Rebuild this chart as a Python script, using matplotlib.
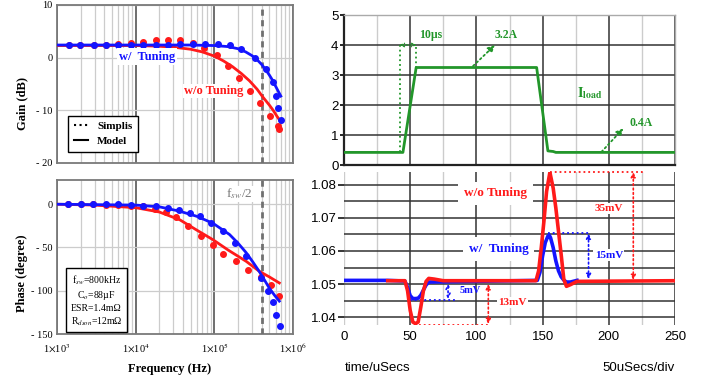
import matplotlib
matplotlib.use("Agg")
import matplotlib.pyplot as plt
import numpy as np
from matplotlib.lines import Line2D
from matplotlib.ticker import LogLocator, MultipleLocator, FixedLocator, NullFormatter

plt.rcParams['mathtext.fontset'] = 'stix'

# ---------------- data: Bode plots (left) ----------------
# Simplis points (dots)
gain_blue_f = [1.41e3, 1.98e3, 2.92e3, 4.22e3, 6.05e3, 8.67e3, 1.25e4, 1.8e4, 2.6e4, 3.65e4,
               5.3e4, 7.7e4, 1.12e5, 1.57e5, 2.21e5, 3.26e5, 4.59e5, 5.57e5, 6.14e5, 6.45e5, 6.97e5]
gain_blue_db = [2.5, 2.5, 2.5, 2.5, 2.5, 2.5, 2.5, 2.5, 2.5, 2.6,
                2.6, 2.6, 2.6, 2.4, 1.6, -0.1, -2.2, -4.7, -7.2, -9.6, -11.8]
gain_red_f = [1.41e3, 1.98e3, 2.92e3, 4.22e3, 6.05e3, 8.67e3, 1.25e4, 1.8e4, 2.6e4, 3.65e4,
              5.3e4, 7.4e4, 1.07e5, 1.5e5, 2.07e5, 2.82e5, 3.78e5, 5.05e5, 6.45e5, 6.64e5]
gain_red_db = [2.5, 2.5, 2.5, 2.5, 2.6, 2.8, 3.0, 3.3, 3.4, 3.3,
               2.8, 1.9, 0.6, -1.6, -3.9, -6.3, -8.7, -11.0, -12.9, -13.5]
# Model curves
gmod_blue_f = [1e3, 1e4, 5e4, 1e5, 1.5e5, 2e5, 2.5e5, 3e5, 3.5e5, 4e5, 4.5e5, 5e5, 5.5e5, 6e5, 6.5e5, 7e5]
gmod_blue_db = [2.4, 2.4, 2.4, 2.3, 2.1, 1.7, 1.1, 0.4, -0.4, -1.3, -2.3, -3.3, -4.3, -5.4, -6.4, -7.3]
gmod_red_f = [1e3, 1e4, 1.8e4, 3e4, 5e4, 7e4, 1e5, 1.3e5, 1.7e5, 2.2e5, 2.8e5, 3.5e5, 4.1e5, 5e5, 5.6e5, 6.3e5, 7.1e5]
gmod_red_db = [2.3, 2.3, 2.2, 2.0, 1.6, 1.1, 0.3, -0.6, -1.7, -3.0, -4.4, -6.0, -7.4, -9.0, -10.0, -11.2, -12.3]

phase_blue_f = [1.4e3, 2e3, 2.9e3, 4.2e3, 6e3, 8.7e3, 1.25e4, 1.8e4, 2.6e4, 3.6e4, 4.9e4,
                6.5e4, 9.2e4, 1.29e5, 1.81e5, 2.54e5, 3.94e5, 4.8e5, 5.5e5, 6.1e5, 6.8e5]
phase_blue_deg = [0, 0, 0, 0, 0, -1, -1.5, -2.5, -4, -7, -10,
                  -14, -22, -31, -45, -60, -85, -100, -113, -128, -141]
phase_red_f = [1.4e3, 2e3, 2.9e3, 4.2e3, 6e3, 8.7e3, 1.25e4, 1.75e4, 2.4e4, 3.3e4, 4.6e4,
               6.8e4, 9.6e4, 1.3e5, 1.9e5, 2.66e5, 3.9e5, 5.25e5, 6.6e5]
phase_red_deg = [0, 0, 0, -0.5, -1, -1.5, -2.5, -5, -9, -15, -25,
                 -37, -47, -58, -66, -76, -84, -93, -106]
pmod_blue_f = [1e3, 1e4, 2e4, 3.6e4, 6e4, 9.6e4, 1.56e5, 2e5, 2.54e5, 3.1e5, 3.74e5, 4.3e5, 5e5, 5.8e5, 6.7e5]
pmod_blue_deg = [0, -1, -3, -8, -14, -22, -35, -45, -56, -67, -78, -87, -97, -105, -112]
pmod_red_f = [1e3, 3e3, 1e4, 2e4, 3.64e4, 6e4, 9.6e4, 1.5e5, 2.54e5, 3.74e5, 5e5, 6.7e5]
pmod_red_deg = [0, -1, -4, -9, -18, -30, -41, -53, -66, -77.6, -84, -91]

f_half = 4e5  # fsw/2

# ---------------- data: transient (right) ----------------
iload_t = [0, 44.5, 54.5, 145.5, 154, 158, 160, 250]
iload_a = [0.42, 0.42, 3.25, 3.25, 0.47, 0.45, 0.42, 0.42]

vb_t = [0, 33, 46, 48, 50, 52, 54, 56, 58, 60, 62, 64, 146, 148, 150, 152, 154, 155,
        156, 158, 160, 162, 164, 166, 168, 171, 176]
vb_v = [1.0511, 1.0511, 1.0509, 1.049, 1.0465, 1.0456, 1.0456, 1.0457, 1.0466, 1.0482, 1.0497,
        1.0506, 1.0511, 1.0535, 1.0585, 1.0625, 1.0645, 1.0648, 1.0640, 1.0610, 1.0570, 1.0540,
        1.0522, 1.0512, 1.0506, 1.0506, 1.0511]
vr_t = [33, 46, 48, 50, 52, 54, 56, 58, 60, 62, 64, 68, 75, 145, 147, 149, 151, 153, 155.5,
        158, 160, 162, 164, 166, 168, 171, 176, 250]
vr_v = [1.051, 1.051, 1.048, 1.042, 1.0385, 1.038, 1.0385, 1.043, 1.048, 1.0508, 1.0517, 1.0515,
        1.051, 1.051, 1.054, 1.061, 1.069, 1.078, 1.0838, 1.079, 1.073, 1.066, 1.059, 1.0515,
        1.0493, 1.0498, 1.0508, 1.051]

BLUE = '#1414ff'
RED = '#ff1a1a'
GREEN = '#22962a'
SERIF = 'Liberation Serif'
SANS = 'Liberation Sans'

fig = plt.figure(figsize=(7.06, 3.83), dpi=100)
W, H = 706, 383


def add_ax(x0, y0, x1, y1):
    return fig.add_axes([x0 / W, 1 - y1 / H, (x1 - x0) / W, (y1 - y0) / H])


def style_bode(ax):
    ax.set_xscale('log')
    ax.set_xlim(1e3, 1e6)
    ax.xaxis.set_major_locator(LogLocator(base=10, numticks=10))
    ax.xaxis.set_minor_locator(LogLocator(base=10, subs=np.arange(2, 10), numticks=20))
    ax.xaxis.set_minor_formatter(NullFormatter())
    ax.grid(True, axis='x', which='minor', color='#cccccc', lw=0.9)
    ax.grid(True, axis='x', which='major', color='#555555', lw=1.2)
    ax.grid(True, axis='y', which='major', color='#cccccc', lw=0.9)
    ax.set_axisbelow(True)
    for s in ax.spines.values():
        s.set_color('#7a7a7a')
        s.set_linewidth(1.3)
    ax.tick_params(axis='both', which='both', length=0, labelsize=7.5, pad=3)
    for lab in ax.get_xticklabels() + ax.get_yticklabels():
        lab.set_family(SERIF)
    ax.axvline(f_half, color='#707070', lw=2, ls=(0, (2.2, 1.6)), zorder=4)


# ---- Gain ----
axg = add_ax(57, 5, 293, 163)
axg.plot(gmod_red_f, gmod_red_db, color=RED, lw=2.0, zorder=5)
axg.plot(gain_red_f, gain_red_db, 'o', color=RED, ms=4, zorder=5)
axg.plot(gmod_blue_f, gmod_blue_db, color=BLUE, lw=2.0, zorder=6)
axg.plot(gain_blue_f, gain_blue_db, 'o', color=BLUE, ms=4, zorder=6)
axg.set_ylim(-20, 10)
axg.set_yticks([-20, -10, 0, 10])
axg.set_yticklabels(['- 20', '- 10', '0', '10'])
style_bode(axg)
axg.set_xticklabels([])
axg.text(1.4e4, 0.2, 'w/  Tuning', color=BLUE, fontsize=9, fontweight='bold', family=SERIF,
         ha='center', va='center', zorder=7,
         bbox=dict(facecolor='white', edgecolor='none', pad=1.5))
axg.text(9.8e4, -6.3, 'w/o Tuning', color=RED, fontsize=9, fontweight='bold', family=SERIF,
         ha='center', va='center', zorder=3,
         bbox=dict(facecolor='white', edgecolor='none', pad=0.5))
handles = [Line2D([], [], color='black', ls=':', lw=1.5),
           Line2D([], [], color='black', ls='-', lw=1.5)]
leg = axg.legend(handles, ['Simplis', 'Model'], loc='lower left', bbox_to_anchor=(0.047, 0.07),
                 borderaxespad=0, fancybox=False, edgecolor='black', framealpha=1,
                 prop={'family': SERIF, 'weight': 'bold', 'size': 8},
                 handlelength=1.3, handletextpad=0.8, labelspacing=0.5, borderpad=0.5)
leg.get_frame().set_linewidth(1.0)
leg.set_zorder(10)
fig.text(22 / W, 1 - 103 / H, 'Gain (dB)', rotation=90, ha='center', va='center',
         family=SERIF, fontweight='bold', fontsize=9)

# ---- Phase ----
axp = add_ax(57, 180, 293, 334)
axp.plot(pmod_red_f, pmod_red_deg, color=RED, lw=2.0, zorder=5)
axp.plot(phase_red_f, phase_red_deg, 'o', color=RED, ms=4, zorder=5)
axp.plot(pmod_blue_f, pmod_blue_deg, color=BLUE, lw=2.0, zorder=6)
axp.plot(phase_blue_f, phase_blue_deg, 'o', color=BLUE, ms=4, zorder=6)
axp.set_ylim(-150, 28)
axp.set_yticks([-150, -100, -50, 0])
axp.set_yticklabels(['- 150', '- 100', '- 50', '0'])
style_bode(axp)
axp.set_xticks([1e3, 1e4, 1e5, 1e6])
axp.set_xticklabels([r'1$\times$10$^{3}$', r'1$\times$10$^{4}$', r'1$\times$10$^{5}$',
                     r'1$\times$10$^{6}$'], family=SERIF, fontsize=7.5)
axp.tick_params(axis='x', pad=6)
axp.text(2.1e5, 12, r'f$_{sw}$/2', color='#777777', fontsize=9.5, family=SERIF,
         ha='center', va='center', zorder=3,
         bbox=dict(facecolor='white', edgecolor='none', pad=0.5))
axp.text(0.167, 0.218, 'f$_{sw}$=800kHz\nC$_{o}$=88µF\nESR=1.4mΩ\nR$_{dson}$=12mΩ',
         transform=axp.transAxes, ha='center', va='center', multialignment='center',
         family=SERIF, fontsize=7, linespacing=1.25, zorder=10,
         bbox=dict(facecolor='white', edgecolor='black', lw=1.0, pad=3.5))
fig.text(22 / W, 1 - 273 / H, 'Phase (degree)', rotation=90, ha='center', va='center',
         family=SERIF, fontweight='bold', fontsize=9)
fig.text(170 / W, 1 - 369 / H, 'Frequency (Hz)', ha='center', va='center',
         family=SERIF, fontweight='bold', fontsize=9)

# ---- Load current ----
axi = add_ax(344, 15, 675, 165)
axi.set_xlim(0, 250)
axi.set_ylim(0, 5)
axi.xaxis.set_major_locator(MultipleLocator(50))
axi.xaxis.set_minor_locator(MultipleLocator(25))
axi.yaxis.set_major_locator(MultipleLocator(1))
axi.grid(True, which='major', color='#333333', lw=1.1)
axi.grid(True, axis='x', which='minor', color='#cccccc', lw=1.0)
axi.set_axisbelow(True)
axi.set_xticklabels([])
axi.tick_params(axis='x', which='both', length=0)
axi.tick_params(axis='y', length=3, width=1.2, labelsize=9.5, pad=1)
for lab in axi.get_yticklabels():
    lab.set_family(SANS)
for k in ('left', 'bottom'):
    axi.spines[k].set_color('#222222')
    axi.spines[k].set_linewidth(1.6)
for k in ('top', 'right'):
    axi.spines[k].set_color('#aaaaaa')
    axi.spines[k].set_linewidth(1.0)
axi.plot(iload_t, iload_a, color=GREEN, lw=2.0, zorder=5)
gkw = dict(color=GREEN, fontsize=8.5, fontweight='bold', family=SERIF, va='center', zorder=6)
axi.plot([42, 42], [0.42, 4.05], color=GREEN, ls=':', lw=1.3)
axi.plot([54.7, 54.7], [3.25, 4.05], color=GREEN, ls=':', lw=1.3)
axi.annotate('', xy=(42, 4.0), xytext=(54.7, 4.0),
             arrowprops=dict(arrowstyle='<->', color=GREEN, lw=1.0, ls=':',
                             mutation_scale=6, shrinkA=0, shrinkB=0))
axi.text(57, 4.35, '10µs', **gkw)
axi.annotate('', xy=(114, 4.0), xytext=(97.5, 3.3),
             arrowprops=dict(arrowstyle='-|>', color=GREEN, lw=1.3, ls=':',
                             mutation_scale=10, shrinkA=0, shrinkB=0))
axi.text(114, 4.35, '3.2A', **gkw)
axi.text(176, 2.4, r'$\mathbf{I}_{\mathbf{load}}$', color=GREEN, fontsize=10, va='center')
axi.annotate('', xy=(211, 1.22), xytext=(194.5, 0.44),
             arrowprops=dict(arrowstyle='-|>', color=GREEN, lw=1.3, ls=':',
                             mutation_scale=10, shrinkA=0, shrinkB=0))
axi.text(216, 1.4, '0.4A', **gkw)

# ---- Output voltage ----
axv = add_ax(344, 172, 675, 325)
axv.set_xlim(0, 250)
axv.set_ylim(1.0376, 1.0839)
for s in axv.spines.values():
    s.set_visible(False)
axv.xaxis.set_major_locator(MultipleLocator(50))
axv.yaxis.set_major_locator(FixedLocator([1.04, 1.05, 1.06, 1.07, 1.08]))
axv.yaxis.set_minor_locator(MultipleLocator(0.005))
axv.grid(True, axis='y', which='both', color='#333333', lw=1.1)
axv.set_axisbelow(True)
for t in np.arange(0, 251, 25):
    dark = (t % 50 == 0) and t > 0
    axv.axvline(t, color='#333333' if dark else '#cccccc', lw=1.1 if dark else 1.0, zorder=0)
axv.tick_params(axis='y', which='major', length=4, width=1.1, labelsize=9.5, pad=1)
axv.tick_params(axis='y', which='minor', length=0)
axv.tick_params(axis='x', length=0, labelsize=9.5, pad=4)
for lab in axv.get_xticklabels() + axv.get_yticklabels():
    lab.set_family(SANS)
axv.plot(vb_t, vb_v, color=BLUE, lw=2.6, zorder=5, solid_joinstyle='round')
axv.plot(vr_t, vr_v, color=RED, lw=2.6, zorder=6, solid_joinstyle='round')

akw = dict(shrinkA=0, shrinkB=0, mutation_scale=7, lw=1.2, ls=':')
axv.plot([155.5, 227], [1.0839, 1.0839], color=RED, ls=':', lw=1.3, clip_on=False)
axv.annotate('', xy=(218.5, 1.0839), xytext=(218.5, 1.0512),
             arrowprops=dict(arrowstyle='<|-|>', color=RED, **akw), annotation_clip=False)
axv.plot([154, 184.7], [1.0653, 1.0653], color=BLUE, ls=':', lw=1.3)
axv.annotate('', xy=(184.7, 1.0653), xytext=(184.7, 1.0515),
             arrowprops=dict(arrowstyle='<|-|>', color=BLUE, **akw))
axv.plot([50, 85], [1.0453, 1.0453], color=BLUE, ls=':', lw=1.3)
axv.annotate('', xy=(78.6, 1.0501), xytext=(78.6, 1.0455),
             arrowprops=dict(arrowstyle='<->', color=BLUE, **akw))
axv.plot([57, 109], [1.0377, 1.0377], color=RED, ls=':', lw=1.3)
axv.annotate('', xy=(109, 1.0500), xytext=(109, 1.0379),
             arrowprops=dict(arrowstyle='<|-|>', color=RED, **akw))

tkw = dict(fontweight='bold', family=SERIF, ha='center', va='center')
axv.text(114.4, 1.0775, 'w/o Tuning', color=RED, fontsize=9.5, zorder=7,
         bbox=dict(facecolor='white', edgecolor='none', pad=4), **tkw)
axv.text(117, 1.0606, 'w/  Tuning', color=BLUE, fontsize=9.5, zorder=4,
         bbox=dict(facecolor='white', edgecolor='none', pad=4), **tkw)
axv.text(200, 1.0729, '35mV', color=RED, fontsize=8, zorder=7,
         bbox=dict(facecolor='white', edgecolor='none', pad=1), **tkw)
axv.text(200, 1.0587, '15mV', color=BLUE, fontsize=8, zorder=7,
         bbox=dict(facecolor='white', edgecolor='none', pad=1), **tkw)
axv.text(95.5, 1.0481, '5mV', color=BLUE, fontsize=7.5, zorder=7, **tkw)
axv.text(127, 1.0444, '13mV', color=RED, fontsize=8, zorder=7,
         bbox=dict(facecolor='white', edgecolor='none', pad=1), **tkw)

fig.text(345 / W, 1 - 368 / H, 'time/uSecs', ha='left', va='center', family=SANS, fontsize=9.5)
fig.text(675 / W, 1 - 368 / H, '50uSecs/div', ha='right', va='center', family=SANS, fontsize=9.5)

fig.savefig('out.png', dpi=100)
